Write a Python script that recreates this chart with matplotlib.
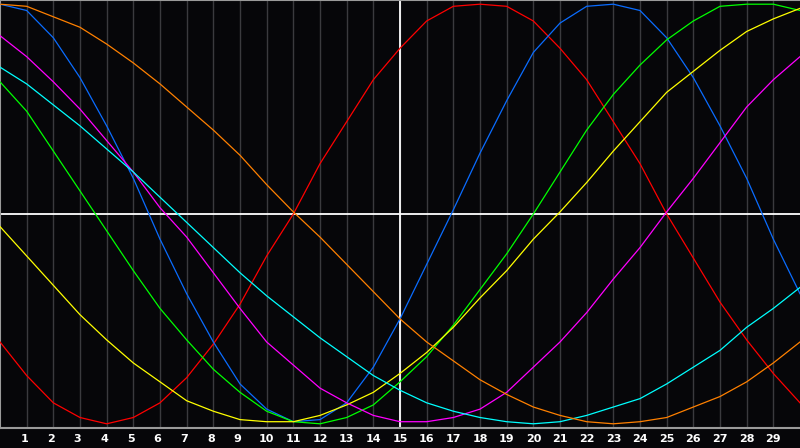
import numpy as np
import matplotlib
matplotlib.use('Agg')
import matplotlib.pyplot as plt

#----------------------------------------------------------------------
# DATA (-100 .. 100, one per day 0..30)
days = list(range(0, 31))

red = [-61, -77, -90, -97, -100, -97, -90, -78, -62, -43, -20, 0, 24, 44, 64, 79,
       92, 99, 100, 99, 92, 79, 64, 44, 24, 0, -21, -42, -60, -76, -90]
blue = [100, 97, 84, 65, 42, 17, -12, -38, -61, -81, -93, -99, -98, -90, -73, -50,
        -24, 2, 29, 54, 77, 91, 99, 100, 97, 84, 65, 42, 17, -12, -38]
green = [63, 49, 30, 11, -8, -27, -45, -60, -74, -85, -94, -99, -100, -97, -91, -80,
         -68, -53, -36, -19, 0, 20, 40, 57, 71, 83, 92, 99, 100, 100, 97]
magenta = [85, 75, 63, 50, 35, 20, 3, -11, -28, -45, -61, -72, -83, -90, -96, -99,
           -99, -97, -93, -85, -73, -61, -47, -31, -16, 1, 17, 34, 51, 64, 75]
yellow = [-6, -20, -34, -48, -60, -71, -80, -89, -94, -98, -99, -99, -96, -91, -85, -76,
          -66, -54, -40, -27, -12, 1, 15, 30, 44, 58, 68, 78, 87, 93, 98]
orange = [100, 99, 94, 89, 81, 72, 62, 51, 40, 28, 14, 1, -11, -24, -37, -50,
          -61, -70, -79, -86, -92, -96, -99, -100, -99, -97, -92, -87, -80, -71, -61]
cyan = [70, 62, 52, 42, 31, 20, 8, -4, -16, -28, -39, -49, -59, -68, -77, -84,
        -90, -94, -97, -99, -100, -99, -96, -92, -88, -81, -73, -65, -54, -45, -35]

series = [(red, '#ff0000'), (blue, '#0a6cff'), (green, '#00ff00'),
          (yellow, '#ffff00'), (magenta, '#ff00ff'), (cyan, '#00ffff'),
          (orange, '#ff8000')]

tick_days = list(range(1, 30))

#----------------------------------------------------------------------
# FIGURE SETUP
bg = '#060609'
fig = plt.figure(figsize=(8, 4.48), dpi=100, facecolor=bg)
ax = fig.add_axes([0, 20/448, 1, 428/448])
ax.set_facecolor(bg)
ax.set_xlim(0, 30)
ax.set_ylim(-102, 102)

# day grid
for d in tick_days:
    ax.axvline(d, color='#3a3a3e', lw=1.0, zorder=1)

# crosshair
ax.axvline(15, color='white', lw=1.3, zorder=2)
ax.axhline(0, color='white', lw=1.3, zorder=2)

# curves
for vals, col in series:
    ax.plot(days, vals, color=col, lw=0.9, zorder=3)

# frame
for side in ['left', 'top', 'bottom']:
    ax.spines[side].set_color('#9a9a9a')
    ax.spines[side].set_linewidth(1.5)
ax.spines['right'].set_visible(False)
ax.set_xticks([])
ax.set_yticks([])

# day labels under the axis
for d in tick_days:
    xoff = -0.09 if d < 10 else 0.0
    ax.text(d + xoff, -1.0 / 428 * 11, str(d), transform=ax.get_xaxis_transform(),
            ha='center', va='center', color='white', fontsize=8,
            fontweight='bold', family='DejaVu Sans')

fig.savefig('out.png', dpi=100, facecolor=bg)
